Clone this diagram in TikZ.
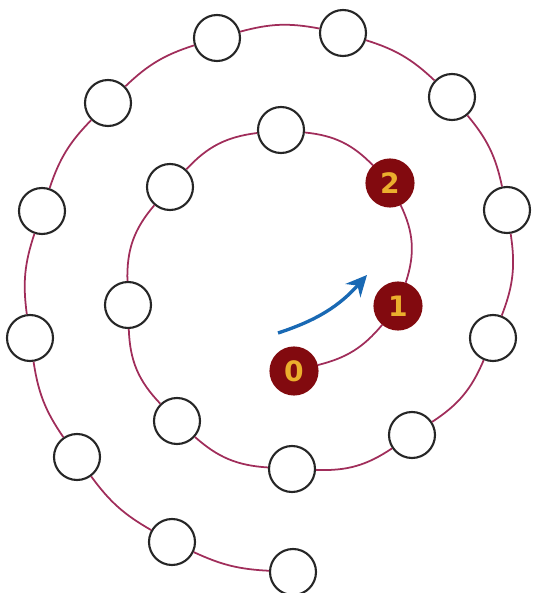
\documentclass[tikz,border=0pt]{standalone}
\usepackage{fontspec}
\usepackage{tikz}
\usetikzlibrary{arrows.meta,positioning}

\newfontfamily\digitfont{DejaVu Sans}
\definecolor{spiralred}{RGB}{160,45,90}
\definecolor{slotred}{RGB}{130,10,15}
\definecolor{digitgold}{RGB}{235,175,45}
\definecolor{turnblue}{RGB}{25,105,180}

\begin{document}
\begin{tikzpicture}[
  font=\fontsize{16}{18}\selectfont\digitfont\bfseries,
  slot/.style={circle,draw=black!85,line width=1.2pt,fill=white,minimum size=9.2mm,inner sep=0pt},
  taken/.style={slot,draw=slotred,fill=slotred,text=digitgold,minimum size=9.4mm},
  link/.style={draw=spiralred,line width=1pt,bend right=#1},
  turn/.style={-{Stealth[length=4.2mm,width=4mm]},draw=turnblue,line width=1.9pt}
]
\useasboundingbox (0,0) rectangle (10.74,11.86);
% ---------- inner turn ----------
\node[taken] (s0)  at (5.88,4.44)  {0};
\node[taken] (s1)  at (7.96,5.74)  {1};
\node[taken] (s2)  at (7.80,8.20)  {2};
\node[slot]  (s3)  at (5.62,9.26)  {};
\node[slot]  (s4)  at (3.40,8.12)  {};
\node[slot]  (s5)  at (2.56,5.76)  {};
\node[slot]  (s6)  at (3.54,3.44)  {};
\node[slot]  (s7)  at (5.84,2.48)  {};
\node[slot]  (s8)  at (8.24,3.16)  {};
% ---------- outer turn ----------
\node[slot]  (s9)  at (9.86,5.10)  {};
\node[slot]  (s10) at (10.14,7.66) {};
\node[slot]  (s11) at (9.04,9.92)  {};
\node[slot]  (s12) at (6.86,11.20) {};
\node[slot]  (s13) at (4.34,11.10) {};
\node[slot]  (s14) at (2.16,9.80)  {};
\node[slot]  (s15) at (0.84,7.64)  {};
\node[slot]  (s16) at (0.60,5.10)  {};
\node[slot]  (s17) at (1.54,2.72)  {};
\node[slot]  (s18) at (3.44,1.02)  {};
\node[slot]  (s19) at (5.86,0.42)  {};
% ---------- spiral ----------
\foreach \a/\b/\c in {s0/s1/18,s1/s2/22,s2/s3/20,s3/s4/20,s4/s5/21,s5/s6/21,
                      s6/s7/19,s7/s8/18,s8/s9/17,s9/s10/15,s10/s11/14,s11/s12/13,
                      s12/s13/13,s13/s14/13,s14/s15/13,s15/s16/13,s16/s17/13,
                      s17/s18/12,s18/s19/11}
  \draw[link=\c] (\a) to (\b);
% ---------- direction ----------
\coordinate (from) at (5.56,5.20);
\coordinate (dir)  at (7.34,6.36);
\draw[turn] (from) to[bend right=15] (dir);
\end{tikzpicture}
\end{document}
